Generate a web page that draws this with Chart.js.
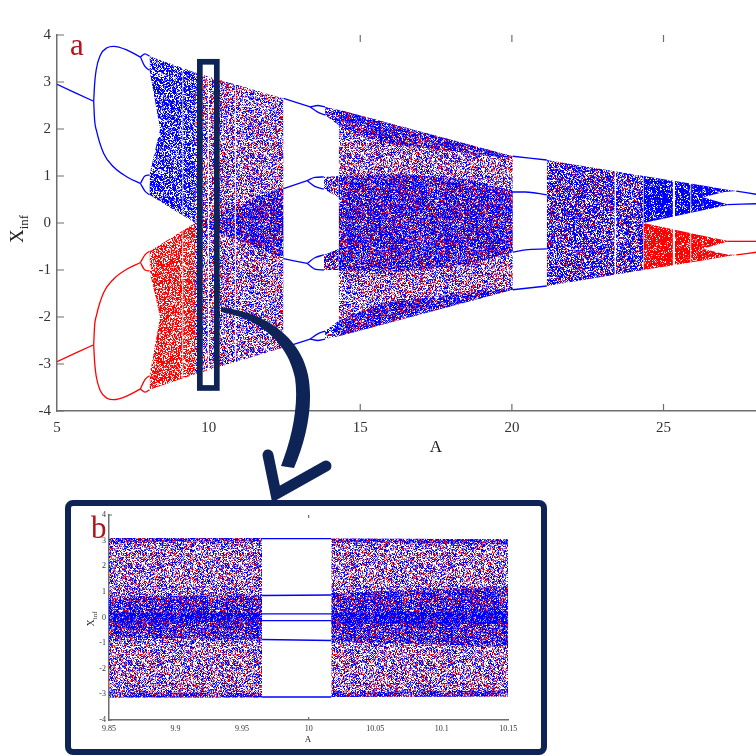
<!DOCTYPE html>
<html>
<head>
<meta charset="utf-8">
<script src="https://cdn.jsdelivr.net/npm/chart.js@4.4.1/dist/chart.umd.min.js"></script>
<style>
  html, body { margin: 0; padding: 0; background: #fff; }
  #wrap { position: relative; width: 756px; height: 756px; overflow: hidden; }
  #main { position: absolute; left: 0; top: 0; }
  #box { position: absolute; left: 65px; top: 500px; width: 482px; height: 255px; box-sizing: border-box;
         border: 6.5px solid #0e2456; border-radius: 8px; background: #fff; }
  #inset { position: absolute; left: 72px; top: 507px; }
  #over { position: absolute; left: 0; top: 0; pointer-events: none; }
  text { font-family: "Liberation Serif", "DejaVu Serif", serif; }
</style>
</head>
<body>
<div id="wrap">
  <canvas id="main" width="756" height="470"></canvas>
  <div id="box"></div>
  <canvas id="inset" width="468" height="241"></canvas>
  <svg id="over" width="756" height="756">
    <text x="70" y="55" font-size="31" fill="#b0141c">a</text>
    <text x="436" y="452" font-size="17" text-anchor="middle" fill="#222">A</text>
    <text transform="translate(23,229) rotate(-90)" font-size="19" text-anchor="middle" fill="#222">X<tspan font-size="13" dy="5">inf</tspan></text>
    <text x="91" y="538" font-size="31" fill="#b0141c">b</text>
    <text x="308" y="742" font-size="9" text-anchor="middle" fill="#222">A</text>
    <text transform="translate(94,619) rotate(-90)" font-size="10" text-anchor="middle" fill="#222">X<tspan font-size="7" dy="3">inf</tspan></text>
    <path d="M 221 307 C 262 312, 300 335, 308 375 C 314 405, 306 440, 294 468 L 281 466 C 292 438, 299 405, 295 378 C 288 342, 258 318, 221 312 Z" fill="#0e2456"/>
    <path d="M 268 455 L 276 494 L 326 466" fill="none" stroke="#0e2456" stroke-width="11" stroke-linecap="round" stroke-linejoin="miter"/>
  </svg>
</div>
<script>
const NAVY = "#0e2456";

// axes
const xTicks = [5, 10, 15, 20, 25];
const yTicks = [-4, -3, -2, -1, 0, 1, 2, 3, 4];
const innerXTicks = [15, 20, 25];
const insetXTicks = [9.85, 9.9, 9.95, 10, 10.05, 10.1, 10.15];
const insetInnerXTicks = [10];
const zoomBoxA = [9.71, 10.27];
const zoomBoxX = [-3.51, 3.43];

// periodic branches, [A, X] (blue = upper attractor, red = lower)
const bP1 = [[5, 2.95], [6.21, 2.59]];
const bP2Hi = [[6.21, 2.59], [6.24, 2.95], [6.29, 3.25], [6.43, 3.57], [6.65, 3.73], [6.87, 3.76], [7.31, 3.68], [7.75, 3.53]];
const bP2Lo = [[6.21, 2.59], [6.24, 2.19], [6.3, 1.97], [6.54, 1.48], [6.87, 1.19], [7.31, 0.98], [7.75, 0.84]];
const bP4a = [[7.75, 3.53], [7.9, 3.6], [8.05, 3.55]];
const bP4b = [[7.75, 3.53], [7.9, 3.33], [8.05, 3.25]];
const bP4c = [[7.75, 0.84], [7.9, 1.0], [8.05, 1.02]];
const bP4d = [[7.75, 0.84], [7.9, 0.68], [8.05, 0.6]];
const rP1 = [[5, -2.95], [6.21, -2.59]];
const rP2Lo = [[6.21, -2.59], [6.24, -2.95], [6.29, -3.25], [6.43, -3.57], [6.65, -3.73], [6.87, -3.76], [7.31, -3.68], [7.75, -3.53]];
const rP2Hi = [[6.21, -2.59], [6.24, -2.19], [6.3, -1.97], [6.54, -1.48], [6.87, -1.19], [7.31, -0.98], [7.75, -0.84]];
const rP4a = [[7.75, -3.53], [7.9, -3.6], [8.05, -3.55]];
const rP4b = [[7.75, -3.53], [7.9, -3.33], [8.05, -3.25]];
const rP4c = [[7.75, -0.84], [7.9, -1.0], [8.05, -1.02]];
const rP4d = [[7.75, -0.84], [7.9, -0.68], [8.05, -0.6]];

// window 12.5 - 14.3
const w1Top = [[12.47, 2.65], [13.35, 2.47]];
const w1TopA = [[13.35, 2.47], [13.6, 2.5], [13.84, 2.47]];
const w1TopB = [[13.35, 2.47], [13.6, 2.36], [13.84, 2.3]];
const w1MidHi = [[12.47, 0.73], [13.25, 0.9]];
const w1MidHiA = [[13.25, 0.9], [13.5, 0.97], [13.8, 0.98]];
const w1MidHiB = [[13.25, 0.9], [13.5, 0.78], [13.8, 0.72]];
const w1MidLo = [[12.47, -0.76], [13.25, -0.86]];
const w1MidLoA = [[13.25, -0.86], [13.5, -0.74], [13.8, -0.68]];
const w1MidLoB = [[13.25, -0.86], [13.5, -0.98], [13.8, -1.0]];
const w1Bot = [[12.47, -2.65], [13.35, -2.47]];
const w1BotA = [[13.35, -2.47], [13.6, -2.36], [13.84, -2.3]];
const w1BotB = [[13.35, -2.47], [13.6, -2.5], [13.84, -2.47]];

// window 20 - 21.2
const w2Top = [[20.03, 1.42], [21.15, 1.34]];
const w2MidHi = [[20.03, 0.66], [20.45, 0.66], [21.15, 0.6]];
const w2MidLo = [[20.03, -0.62], [20.45, -0.57], [21.15, -0.55]];
const w2Bot = [[20.03, -1.42], [21.15, -1.34]];

// right end branches
const bEndHi = [[27.4, 0.68], [28.07, 0.61]];
const bEndLo = [[27.1, 0.39], [28.07, 0.41]];
const rEndHi = [[27.1, -0.39], [28.07, -0.39]];
const rEndLo = [[27.4, -0.68], [28.07, -0.62]];

// chaotic bands: upper edge / lower edge
const bChaosHiTop = [[8.05, 3.55], [9.55, 3.2]];
const bChaosHiBot = [[8.05, 3.25], [8.4, 2.0], [9.55, 1.5]];
const bChaosLoTop = [[8.05, 1.02], [8.4, 2.0], [9.55, 1.7]];
const bChaosLoBot = [[8.05, 0.6], [9.55, 0.0]];
const rChaosHiTop = [[8.05, -0.6], [9.55, 0.0]];
const rChaosHiBot = [[8.05, -1.02], [8.4, -2.0], [9.55, -1.7]];
const rChaosLoTop = [[8.05, -3.25], [8.4, -2.0], [9.55, -1.5]];
const rChaosLoBot = [[8.05, -3.55], [9.55, -3.22]];

const mixATop = [[9.55, 3.2], [12.47, 2.65]];
const mixABot = [[9.55, -3.22], [12.47, -2.65]];
const wedgeATop = [[9.55, 0.0], [12.47, 0.77]];
const wedgeABot = [[9.55, 0.0], [12.47, -0.77]];

const mixBTop = [[14.29, 2.41], [20.03, 1.42]];
const mixBBot = [[14.29, -2.41], [20.03, -1.42]];
const stripHiTop = [[13.84, 2.47], [14.29, 2.41], [20.03, 1.42]];
const stripHiBot = [[13.84, 2.3], [14.29, 2.08], [15.7, 1.7], [20.03, 1.37]];
const stripLoTop = [[13.84, -2.3], [14.29, -2.08], [15.7, -1.7], [20.03, -1.37]];
const stripLoBot = [[13.84, -2.47], [14.29, -2.41], [20.03, -1.42]];
const eyeTop = [[14.29, 1.0], [16.4, 1.05], [18.5, 0.92], [20.03, 0.68]];
const eyeBot = [[14.29, -1.0], [16.4, -1.04], [18.5, -0.9], [20.03, -0.62]];
const eyeHiTop = [[13.8, 0.98], [14.29, 1.0]];
const eyeHiBot = [[13.8, 0.72], [14.29, 0.55]];
const eyeLoTop = [[13.8, -0.68], [14.29, -0.55]];
const eyeLoBot = [[13.8, -1.0], [14.29, -1.0]];

const mixCTop = [[21.15, 1.34], [24.34, 1.0]];
const mixCBot = [[21.15, -1.34], [24.34, -1.0]];

const bBandTop = [[24.34, 1.0], [26.3, 0.8]];
const bBandBot = [[24.34, 0.0], [26.3, 0.27]];
const bSubHiTop = [[26.3, 0.8], [27.0, 0.72], [27.4, 0.68]];
const bSubHiBot = [[26.3, 0.55], [27.0, 0.66], [27.4, 0.68]];
const bSubLoTop = [[26.3, 0.55], [27.1, 0.4]];
const bSubLoBot = [[26.3, 0.27], [27.1, 0.38]];
const rBandTop = [[24.34, 0.0], [26.3, -0.27]];
const rBandBot = [[24.34, -1.0], [26.3, -0.8]];
const rSubHiTop = [[26.3, -0.27], [27.1, -0.38]];
const rSubHiBot = [[26.3, -0.55], [27.1, -0.4]];
const rSubLoTop = [[26.3, -0.55], [27.0, -0.66], [27.4, -0.68]];
const rSubLoBot = [[26.3, -0.8], [27.0, -0.72], [27.4, -0.68]];

// periodic windows (white gaps): A range and half height
const gapA = [[9.13, 9.17], [9.965, 10.017], [10.86, 10.9], [23.38, 23.44], [25.3, 25.38], [25.88, 25.92]];
const gapHalf = [3.4, 3.4, 3.0, 1.1, 1.0, 0.9];

// inset b (A from 9.85 to 10.15)
const iEnvLTop = [[9.85, 3.1], [9.965, 3.1]];
const iEnvLBot = [[9.85, -3.12], [9.965, -3.12]];
const iStripLHiBot = [[9.85, 2.95], [9.965, 2.98]];
const iStripLLoTop = [[9.85, -2.92], [9.965, -2.95]];
const iMidLTop = [[9.85, 0.82], [9.965, 0.88]];
const iMidLBot = [[9.85, -0.78], [9.965, -0.86]];
const iCoreLTop = [[9.85, 0.2], [9.965, 0.18]];
const iCoreLBot = [[9.85, -0.2], [9.965, -0.16]];
const iEnvRTop = [[10.017, 3.08], [10.15, 3.05]];
const iEnvRBot = [[10.017, -3.1], [10.15, -3.08]];
const iStripRHiBot = [[10.017, 2.95], [10.15, 2.85]];
const iStripRLoTop = [[10.017, -2.92], [10.15, -2.85]];
const iMidRTop = [[10.017, 0.95], [10.15, 1.2]];
const iMidRBot = [[10.017, -0.92], [10.15, -1.15]];
const iCoreRTop = [[10.017, 0.2], [10.15, 0.25]];
const iCoreRBot = [[10.017, -0.22], [10.15, -0.25]];
const iWinTop = [[9.965, 3.08], [10.017, 3.08]];
const iWinBot = [[9.965, -3.1], [10.017, -3.1]];
const iWinHi = [[9.965, 0.86], [10.017, 0.88]];
const iWinLo = [[9.965, -0.86], [10.017, -0.9]];
const iWinCHi = [[9.965, 0.14], [10.017, 0.14]];
const iWinCLo = [[9.965, -0.12], [10.017, -0.12]];

// speckle textures (deterministic hash, style only)
function hash(i, j, s) {
  let h = Math.imul(i, 374761393) ^ Math.imul(j, 668265263) ^ Math.imul(s, 1442695041);
  h = Math.imul(h ^ (h >>> 13), 1274126177);
  h ^= h >>> 16;
  return (h >>> 0) / 4294967296;
}
function shadeOf(u, full) {
  // fraction of full-strength pixels, the rest mid and light tints
  if (u < full) return 0;
  if (u < full + (1 - full) * 0.6) return 90;
  return 170;
}
function makePattern(pBlue, pRed, full, seed) {
  const n = 97;
  const c = document.createElement("canvas");
  c.width = n; c.height = n;
  const g = c.getContext("2d");
  const img = g.createImageData(n, n);
  for (let j = 0; j < n; j++) {
    for (let i = 0; i < n; i++) {
      const h = hash(i, j, seed), u = hash(j, i, seed + 17), k = (j * n + i) * 4;
      let col = null;
      if (h < pBlue) { const t = shadeOf(u, full); col = [t, t, 255]; }
      else if (h < pBlue + pRed) { const t = shadeOf(u, full); col = [255, t, t]; }
      if (col) {
        img.data[k] = col[0]; img.data[k + 1] = col[1]; img.data[k + 2] = col[2]; img.data[k + 3] = 255;
      }
    }
  }
  g.putImageData(img, 0, 0);
  return g.createPattern(c, "repeat");
}
const PAT = {
  mix: makePattern(0.44, 0.22, 0.5, 1),
  dense: makePattern(0.64, 0.14, 0.7, 2),
  core: makePattern(0.84, 0.07, 0.8, 3),
  blue: makePattern(0.72, 0, 0.7, 4),
  blueSolid: makePattern(0.9, 0, 0.85, 5),
  red: makePattern(0, 0.72, 0.7, 6),
  redSolid: makePattern(0, 0.9, 0.85, 7)
};

function bandSets(top, bot, fillStyle, order) {
  const base = { borderColor: "rgba(0,0,0,0)", borderWidth: 0, pointRadius: 0, tension: 0, order: order };
  return [
    Object.assign({ data: top, fill: "+1", backgroundColor: fillStyle }, base),
    Object.assign({ data: bot, fill: false }, base)
  ];
}
function lineSet(pts, color, width) {
  return { data: pts, fill: false, borderColor: color, borderWidth: width, pointRadius: 0,
           cubicInterpolationMode: "monotone", order: 0 };
}

function decor(innerX, tickLen, box) {
  return {
    id: "decor",
    afterDatasetsDraw(chart) {
      if (!box) return;
      const { ctx, scales: { x, y } } = chart;
      const l = x.getPixelForValue(box[0][0]), r = x.getPixelForValue(box[0][1]);
      const t = y.getPixelForValue(box[1][1]), b = y.getPixelForValue(box[1][0]);
      ctx.save();
      ctx.strokeStyle = NAVY;
      ctx.lineWidth = 5.7;
      ctx.strokeRect(l, t, r - l, b - t);
      ctx.restore();
    },
    afterDraw(chart) {
      const { ctx, chartArea: a, scales: { x, y } } = chart;
      ctx.save();
      ctx.strokeStyle = "#6e6e6e";
      ctx.lineWidth = 1.2;
      ctx.beginPath();
      y.ticks.forEach(t => {
        const p = y.getPixelForValue(t.value);
        ctx.moveTo(a.left, p); ctx.lineTo(a.left + tickLen, p);
      });
      innerX.forEach(v => {
        const p = x.getPixelForValue(v);
        ctx.moveTo(p, a.bottom); ctx.lineTo(p, a.bottom - tickLen);
        ctx.moveTo(p, a.top); ctx.lineTo(p, a.top + tickLen);
      });
      ctx.stroke();
      ctx.restore();
    }
  };
}

function axes(xMin, xMax, xt, yAxisW, xAxisH, fontSize, pad, fmt) {
  const font = { family: "Liberation Serif", size: fontSize };
  const common = {
    grid: { display: true, drawOnChartArea: false, drawTicks: false },
    border: { display: true, color: "#6e6e6e", width: 1.5 }
  };
  return {
    x: Object.assign({
      type: "linear", min: xMin, max: xMax,
      afterFit: s => { s.height = xAxisH; },
      afterBuildTicks: s => { s.ticks = xt.map(v => ({ value: v })); },
      ticks: { font, color: "#333", padding: pad[0], maxRotation: 0, autoSkip: false, callback: fmt }
    }, common),
    y: Object.assign({
      type: "linear", min: -4, max: 4,
      afterFit: s => { s.width = yAxisW; },
      afterBuildTicks: s => { s.ticks = yTicks.map(v => ({ value: v })); },
      ticks: { font, color: "#333", padding: pad[1], callback: v => String(v) }
    }, common)
  };
}

// ---- main chart ----
const mainSets = [];
[
  [mixATop, mixABot, PAT.mix, 30],
  [mixBTop, mixBBot, PAT.mix, 30],
  [bChaosHiTop, bChaosHiBot, PAT.blue, 28],
  [bChaosLoTop, bChaosLoBot, PAT.blue, 28],
  [rChaosHiTop, rChaosHiBot, PAT.red, 28],
  [rChaosLoTop, rChaosLoBot, PAT.red, 28],
  [bBandTop, bBandBot, PAT.blueSolid, 28],
  [bSubHiTop, bSubHiBot, PAT.blueSolid, 28],
  [bSubLoTop, bSubLoBot, PAT.blueSolid, 28],
  [rBandTop, rBandBot, PAT.redSolid, 28],
  [rSubHiTop, rSubHiBot, PAT.redSolid, 28],
  [rSubLoTop, rSubLoBot, PAT.redSolid, 28],
  [mixCTop, mixCBot, PAT.dense, 26],
  [wedgeATop, wedgeABot, PAT.dense, 20],
  [stripHiTop, stripHiBot, PAT.dense, 20],
  [stripLoTop, stripLoBot, PAT.dense, 20],
  [eyeTop, eyeBot, PAT.dense, 20],
  [eyeHiTop, eyeHiBot, PAT.dense, 20],
  [eyeLoTop, eyeLoBot, PAT.dense, 20]
].forEach(b => mainSets.push(...bandSets(b[0], b[1], b[2], b[3])));

gapA.forEach((g, i) => {
  const h = gapHalf[i];
  mainSets.push(...bandSets([[g[0], h], [g[1], h]], [[g[0], -h], [g[1], -h]], "#ffffff", 10));
});

[bP1, bP2Hi, bP2Lo, bP4a, bP4b, bP4c, bP4d,
 w1Top, w1TopA, w1TopB, w1MidHi, w1MidHiA, w1MidHiB, w1MidLo, w1MidLoA, w1MidLoB, w1Bot, w1BotA, w1BotB,
 w2Top, w2MidHi, w2MidLo, w2Bot, bEndHi, bEndLo
].forEach(p => mainSets.push(lineSet(p, "#0000ff", 1.3)));
[rP1, rP2Hi, rP2Lo, rP4a, rP4b, rP4c, rP4d, rEndHi, rEndLo]
  .forEach(p => mainSets.push(lineSet(p, "#ff0000", 1.3)));

new Chart(document.getElementById("main"), {
  type: "line",
  data: { datasets: mainSets },
  options: {
    responsive: false,
    animation: false,
    events: [],
    layout: { padding: { top: 35, right: 0, left: 0, bottom: 0 } },
    plugins: { legend: { display: false }, tooltip: { enabled: false } },
    scales: axes(5, 28.05, xTicks, 57, 59, 15, [8, 6], v => String(v))
  },
  plugins: [decor(innerXTicks, 7, [zoomBoxA, zoomBoxX])]
});

// ---- inset chart ----
const insetSets = [];
[
  [iEnvLTop, iEnvLBot, PAT.mix, 30],
  [iEnvRTop, iEnvRBot, PAT.mix, 30],
  [iEnvLTop, iStripLHiBot, PAT.dense, 20],
  [iStripLLoTop, iEnvLBot, PAT.dense, 20],
  [iEnvRTop, iStripRHiBot, PAT.dense, 20],
  [iStripRLoTop, iEnvRBot, PAT.dense, 20],
  [iMidLTop, iMidLBot, PAT.dense, 20],
  [iMidRTop, iMidRBot, PAT.dense, 20],
  [iCoreLTop, iCoreLBot, PAT.core, 15],
  [iCoreRTop, iCoreRBot, PAT.core, 15]
].forEach(b => insetSets.push(...bandSets(b[0], b[1], b[2], b[3])));
[iWinTop, iWinBot, iWinHi, iWinLo, iWinCHi, iWinCLo]
  .forEach(p => insetSets.push(lineSet(p, "#0000ff", 1.4)));

new Chart(document.getElementById("inset"), {
  type: "line",
  data: { datasets: insetSets },
  options: {
    responsive: false,
    animation: false,
    events: [],
    layout: { padding: { top: 8, right: 31.7, left: 0, bottom: 0 } },
    plugins: { legend: { display: false }, tooltip: { enabled: false } },
    scales: axes(9.85, 10.15, insetXTicks, 37, 28, 8, [4, 3], v => String(Math.round(v * 100) / 100))
  },
  plugins: [decor(insetInnerXTicks, 3, null)]
});
</script>
</body>
</html>
